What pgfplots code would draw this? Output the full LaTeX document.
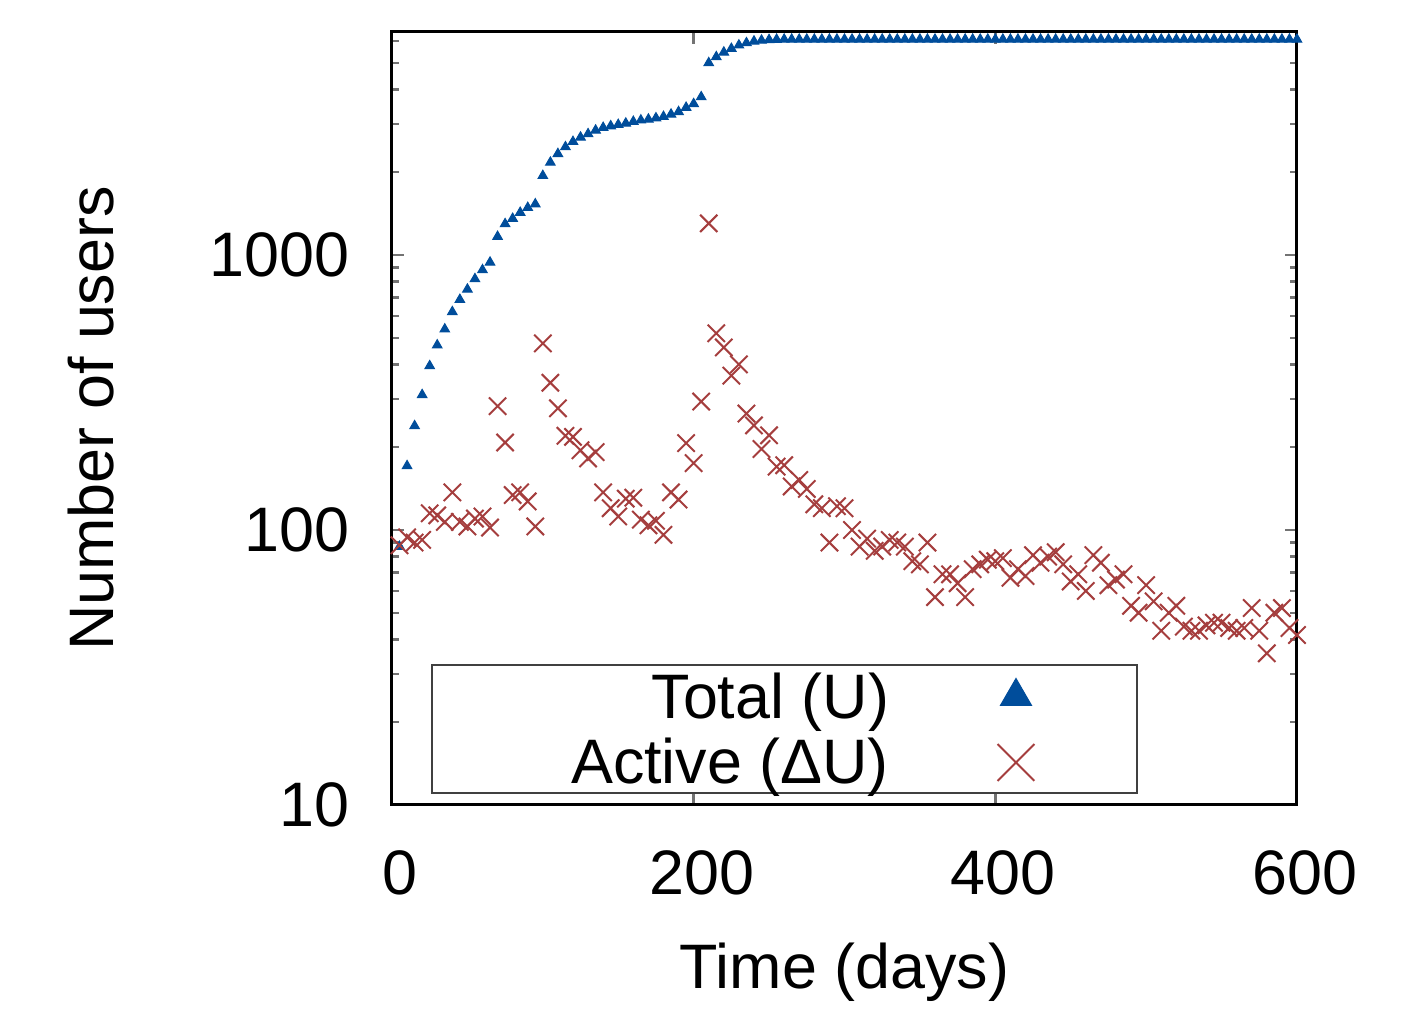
\documentclass[border=0pt]{standalone}
\usepackage{fontspec}
\setmainfont{Liberation Sans}
\usepackage{pgfplots}
\usepackage{pgfplotstable}
\pgfplotsset{compat=1.18}
\definecolor{ublue}{RGB}{0,77,155}
\definecolor{ared}{RGB}{165,62,62}
\pgfplotsset{
  trilegend/.style={legend image code/.code={\path[draw=none,fill=none] (0pt,0pt) rectangle (49.6pt,9pt);
    \draw[##1, mark size=3.6pt] plot coordinates {(25.4pt,4.5pt)};}},
  xlegend/.style={legend image code/.code={\path[draw=none,fill=none] (0pt,0pt) rectangle (49.6pt,9pt);
    \draw[##1, mark size=5.2pt] plot coordinates {(25.4pt,4.3pt)};}},
}
\pgfplotstableread{
day total
5 87
10 171
15 239
20 310
25 395
30 470
35 537
40 621
45 688
50 750
55 818
60 882
65 940
70 1166
75 1297
80 1356
85 1426
90 1486
95 1531
100 1942
105 2170
110 2333
115 2470
120 2582
125 2679
130 2754
135 2840
140 2904
145 2944
150 2977
155 3011
160 3055
165 3090
170 3114
175 3147
180 3184
185 3246
190 3315
195 3437
200 3545
205 3754
210 4993
215 5250
220 5457
225 5628
230 5790
235 5900
240 5985
245 6030
250 6060
255 6075
260 6080
265 6080
270 6080
275 6080
280 6080
285 6080
290 6080
295 6080
300 6080
305 6080
310 6080
315 6080
320 6080
325 6080
330 6080
335 6080
340 6080
345 6080
350 6080
355 6080
360 6080
365 6080
370 6080
375 6080
380 6080
385 6080
390 6080
395 6080
400 6080
405 6080
410 6080
415 6080
420 6080
425 6080
430 6080
435 6080
440 6080
445 6080
450 6080
455 6080
460 6080
465 6080
470 6080
475 6080
480 6080
485 6080
490 6080
495 6080
500 6080
505 6080
510 6080
515 6080
520 6080
525 6080
530 6080
535 6080
540 6080
545 6080
550 6080
555 6080
560 6080
565 6080
570 6080
575 6080
580 6080
585 6080
590 6080
595 6080
600 6080
}\totaltab
\pgfplotstableread{
day active
5 88
10 94
15 90
20 92
25 115
30 113
35 107
40 137
45 107
50 103
55 110
60 112
65 102
70 282
75 208
80 134
85 137
90 127
95 103
100 477
105 343
110 277
115 220
120 218
125 195
130 182
135 192
140 137
145 120
150 112
155 130
160 131
165 109
170 104
175 108
180 96
185 137
190 129
195 207
200 175
205 293
210 1303
215 519
220 461
225 364
230 400
235 265
240 240
245 197
250 221
255 170
260 172
265 144
270 152
275 141
280 124
285 120
290 90
295 122
300 120
305 100
310 87
315 93
320 84
325 87
330 92
335 90
340 87
345 77
350 75
355 90
360 57
365 69
370 69
375 64
380 57
385 72
390 75
395 78
400 77
405 79
410 67
415 72
420 68
425 81
430 76
435 80
440 83
445 75
450 65
455 69
460 60
465 81
470 76
475 63
480 66
485 69
490 53
495 50
500 63
505 55
510 43
515 50
520 53
525 44.5
530 43
535 43
540 45
545 46
550 46
555 44
560 43
565 44
570 52
575 43
580 35.6
585 50
590 52
595 44
600 41.5
}\activetab
\begin{document}
\fontsize{12.57pt}{15pt}\selectfont
\begin{tikzpicture}
\begin{axis}[
 name=ax, scale only axis, width=181pt, height=154.6pt,
 xmin=0, xmax=600, ymode=log, ymin=10, ymax=6470,
 xtick={0,200,400,600}, ytick={10,100,1000}, yticklabels={10,100,1000},
 minor ytick={20,30,40,50,60,70,80,90,200,300,400,500,600,700,800,900,2000,3000,4000,5000,6000},
 tick align=inside,
 axis line style={line width=0.6pt},
 every tick/.style={black!55, line width=0.5pt},
 major tick length=2.4pt, minor tick length=1.4pt,
 /pgf/number format/assume math mode=true,
 xticklabel style={inner sep=0pt, anchor=north, yshift=-9pt, xshift=1.6pt},
 yticklabel style={inner sep=0pt, anchor=east, xshift=-8.4pt},
 xlabel={Time (days)}, ylabel={Number of users},
 xlabel style={at={(axis description cs:0.5,0)}, anchor=north, inner sep=0pt, yshift=-27.4pt},
 ylabel style={at={(axis description cs:-0.306,0.5)}, anchor=south, inner sep=0pt},
 legend plot pos=right,
 legend style={at={(axis description cs:0.0431,0.0142)}, anchor=south west,
   draw=black!75, line width=0.4pt, inner xsep=0pt, inner ysep=1.8pt,
   column sep=0pt, row sep=4pt, cells={anchor=base east},
   nodes={inner sep=0pt, text height=9pt, text depth=0pt}},
]
\addplot[only marks, mark=triangle*, mark size=1.1pt, color=ublue,
  mark options={fill=ublue, draw=ublue, line width=0.2pt}, trilegend]
  table[x=day, y=total] {\totaltab};
\addlegendentry{\makebox[91.4pt][r]{Total (U)}}
\addplot[only marks, mark=x, mark size=2.45pt, color=ared,
  mark options={line width=0.4pt}, xlegend]
  table[x=day, y=active] {\activetab};
\addlegendentry{\makebox[91.4pt][r]{Active (ΔU)}}
\end{axis}
\path ([xshift=-78.4pt,yshift=-41pt]ax.south west) rectangle ([xshift=25.2pt,yshift=6.4pt]ax.north east);
\end{tikzpicture}
\end{document}
